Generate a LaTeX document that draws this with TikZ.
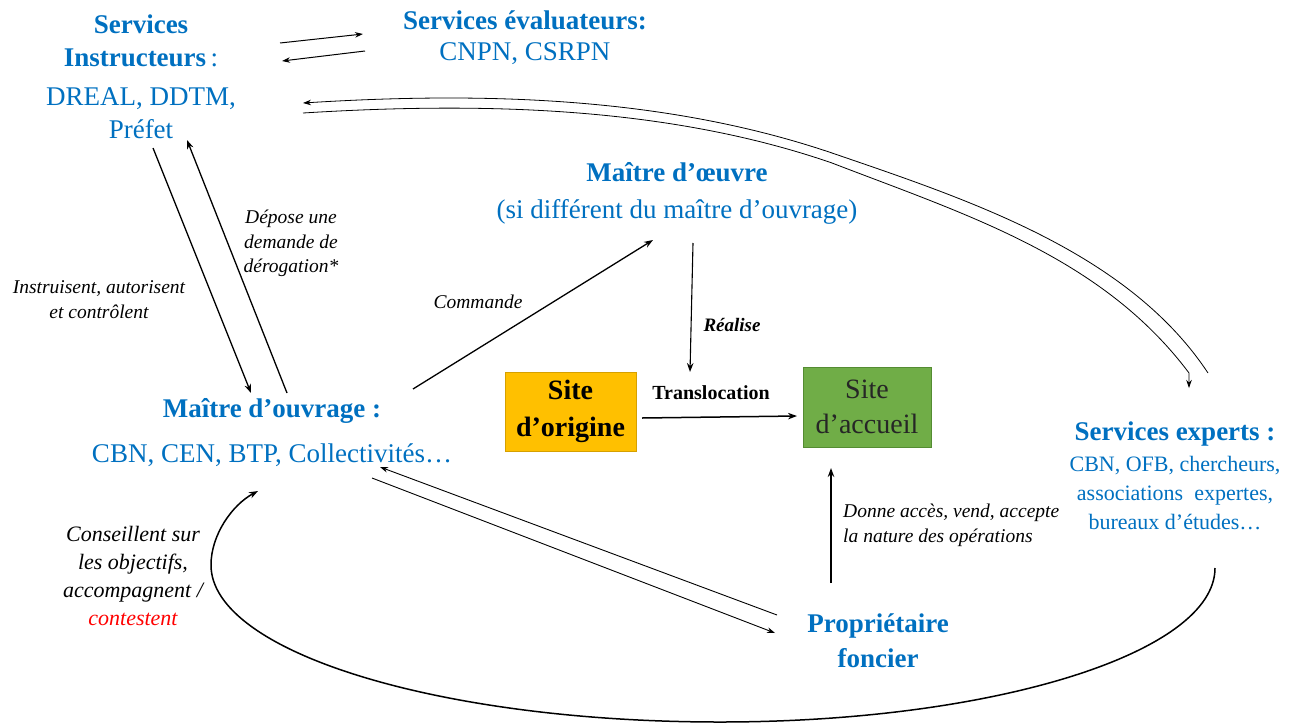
\documentclass[tikz,border=0pt]{standalone}
\usepackage{fontspec}
\setmainfont{Liberation Serif}
\usetikzlibrary{arrows.meta}
\definecolor{mblue}{RGB}{0,112,192}
\definecolor{origfill}{RGB}{255,192,0}
\definecolor{origdraw}{RGB}{214,160,0}
\definecolor{accfill}{RGB}{112,173,71}
\definecolor{accdraw}{RGB}{84,140,50}
\definecolor{acctext}{RGB}{38,38,38}
\newcommand{\fsz}[2]{\fontsize{#1}{#2}\selectfont}
\begin{document}
\begin{tikzpicture}[x=1pt,y=-1pt,
  head/.style={text=mblue, align=center, inner sep=0pt},
  lab/.style={align=center, inner sep=0pt, font=\fsz{19.5}{25}\itshape},
  arr/.style={line width=1.3pt, -{Stealth[length=9pt,width=6.5pt]}},
  thinarr/.style={line width=0.8pt, -{Stealth[length=8pt,width=5.5pt]}},
  thinline/.style={line width=0.8pt},
  sitebox/.style={minimum width=131pt, minimum height=79pt, inner sep=0pt, line width=0.6pt, align=center}
  ]
\useasboundingbox (0,0) rectangle (1295,726);

% ---------- text nodes ----------
\node[head, font=\fsz{27}{33}] (instr) at (141,76.5)
  {\textbf{Services}\\\textbf{Instructeurs}\,:\\[6pt]DREAL, DDTM,\\Préfet};
\node[head, font=\fsz{27}{31}] (eval) at (525,37.5)
  {\textbf{Services évaluateurs:}\\CNPN, CSRPN};
\node[head, font=\fsz{27}{37}] (moe) at (677,193.5)
  {\textbf{Maître d’œuvre}\\(si différent du maître d’ouvrage)};
\node[head, font=\fsz{27}{45}] (mo) at (272,432.5)
  {\textbf{Maître d’ouvrage :}\\CBN, CEN, BTP, Collectivités…};
\node[head, font=\fsz{27}{35}\bfseries] (prop) at (878,640.5)
  {Propriétaire\\foncier};
\node[head, font=\fsz{22}{29}] (exp) at (1175,476)
  {{\fsz{27}{29}\bfseries Services experts :}\\[2pt]CBN, OFB, chercheurs,\\associations\ \ expertes,\\bureaux d’études…};

\node[sitebox, draw=origdraw, fill=origfill, font=\fsz{28}{37}\bfseries] (orig) at (570.5,411.5)
  {Site\\d’origine};
\node[sitebox, minimum width=128pt, minimum height=80pt, draw=accdraw, fill=accfill,
      text=acctext, font=\fsz{28}{35}] (acc) at (867,407)
  {Site\\d’accueil};

\node[lab, font=\fsz{22}{28}\itshape] (cons) at (133,575.5)
  {Conseillent sur\\les objectifs,\\accompagnent /\\\textcolor{red}{contestent}};
\node[lab] (instlab) at (99,299.5) {Instruisent, autorisent\\et contrôlent};
\node[lab, font=\fsz{19.5}{24.5}\itshape] (dep) at (291,243.5) {Dépose une\\demande de\\dérogation*};
\node[lab] (cmd) at (478,302) {Commande};
\node[lab, font=\fsz{19}{24}\bfseries\itshape] (real) at (732,325) {Réalise};
\node[inner sep=0pt, font=\fsz{20}{24}\bfseries] (trans) at (711,393) {Translocation};
\node[lab, align=left, anchor=west] (donne) at (843,525.5)
  {Donne accès, vend, accepte\\la nature des opérations};

% ---------- connector end points ----------
\coordinate (t1s) at (280,43);  \coordinate (t1e) at (363,34);
\coordinate (t2s) at (365,51);  \coordinate (t2e) at (282,61);
\coordinate (a1s) at (153,148); \coordinate (a1e) at (251,393);
\coordinate (a2s) at (287,393); \coordinate (a2e) at (187,140);
\coordinate (c1s) at (413,389); \coordinate (c1e) at (653,240);
\coordinate (r1s) at (693,243); \coordinate (r1e) at (690,372);
\coordinate (tr1) at (642,418); \coordinate (tr2) at (797,416);
\coordinate (d1s) at (831,583); \coordinate (d1e) at (831,468);
\coordinate (p1s) at (777,615); \coordinate (p1e) at (380,467);
\coordinate (p2s) at (372,478); \coordinate (p2e) at (775,633);
\coordinate (u0) at (1208,373); \coordinate (um) at (832,153); \coordinate (u1) at (303,103);
\coordinate (l0) at (303,113);  \coordinate (lm) at (832,163); \coordinate (l1) at (1189,373);
\coordinate (l2) at (1189,388);
\coordinate (b0) at (1215,568); \coordinate (bm) at (720,722); \coordinate (bl) at (211,565);
\coordinate (b1) at (258,491);

% ---------- connectors ----------
\draw[thinarr, line width=1pt] (t1s) -- (t1e);
\draw[thinarr, line width=1pt] (t2s) -- (t2e);
\draw[arr] (a1s) -- (a1e);
\draw[arr] (a2s) -- (a2e);
\draw[arr] (c1s) -- (c1e);
\draw[arr, line width=1.1pt] (r1s) -- (r1e);
\draw[arr, line width=1.5pt] (tr1) -- (tr2);
\draw[arr, line width=1.5pt] (d1s) -- (d1e);
\draw[thinarr, line width=0.9pt] (p1s) -- (p1e);
\draw[thinarr, line width=0.9pt] (p2s) -- (p2e);

\draw[thinarr] (u0) .. controls (1128,252) and (969,200) .. (um)
                    .. controls (664,96) and (480,92) .. (u1);
\draw[thinarr] (l0) .. controls (480,102) and (667,106) .. (lm)
                    .. controls (967,215) and (1102,257) .. (l1) -- (l2);
\draw[arr, line width=1.5pt] (b0) .. controls (1215,653) and (993,722) .. (bm)
                    .. controls (439,722) and (211,652) .. (bl)
                    .. controls (211,535) and (232,505) .. (b1);
\end{tikzpicture}
\end{document}
